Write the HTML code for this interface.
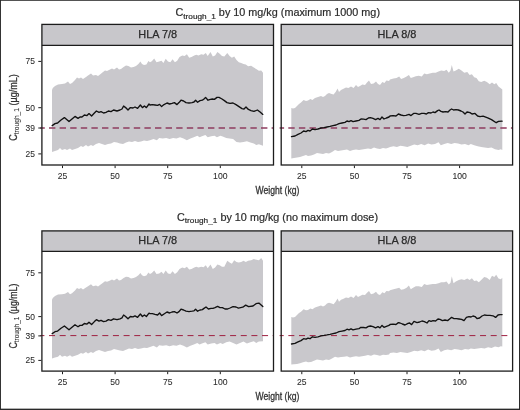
<!DOCTYPE html>
<html lang="en"><head><meta charset="utf-8"><title>Ctrough_1 by dose</title>
<style>
html,body{margin:0;padding:0;background:#fff;}
body{width:520px;height:410px;overflow:hidden;font-family:"Liberation Sans",Arial,sans-serif;}
svg{display:block;}
</style></head><body>
<svg width="520" height="410" viewBox="0 0 520 410" font-family="'Liberation Sans', Arial, sans-serif">
<rect x="0" y="0" width="520" height="410" fill="#ffffff"/>
<polygon points="52.0,90.0 52.8,88.0 55.0,86.0 58.0,84.4 62.0,84.0 65.0,83.6 68.0,81.6 70.0,84.0 72.0,83.0 75.0,80.0 77.0,77.6 79.0,78.4 81.0,77.6 83.0,79.0 86.0,77.0 88.0,75.6 91.0,73.6 93.0,75.6 96.0,75.0 98.0,76.0 100.0,74.4 102.4,72.4 105.0,70.4 107.0,71.0 109.0,70.0 112.0,68.4 114.0,69.6 117.0,67.6 119.0,69.6 121.0,69.0 123.6,67.0 126.0,65.6 128.4,66.0 131.0,67.6 133.6,67.0 136.0,66.0 138.4,64.0 140.4,61.6 142.0,64.0 144.0,65.0 146.4,64.4 148.4,61.0 150.0,62.3 151.8,61.2 154.2,58.4 156.5,62.3 159.2,61.6 161.5,60.7 163.4,63.0 165.7,58.8 168.0,61.6 170.3,62.3 172.6,59.3 174.9,62.3 177.2,60.7 179.5,57.0 182.3,55.4 184.6,56.1 186.9,54.2 189.2,57.7 191.5,57.0 194.3,55.4 196.2,54.7 198.5,55.4 201.2,54.2 203.5,54.7 205.8,53.1 207.7,56.1 210.5,51.9 212.8,56.5 215.1,55.4 217.4,51.9 219.7,53.8 222.0,56.1 224.3,56.5 227.3,53.1 229.6,56.1 231.9,57.7 234.2,56.5 236.5,60.0 238.8,62.3 241.2,63.0 243.5,63.9 245.8,64.6 248.1,66.2 251.1,65.8 253.8,67.6 256.6,69.2 258.9,70.8 261.2,70.4 263.0,72.7 263.0,145.8 258.9,144.2 256.2,144.9 253.8,143.5 250.4,142.6 246.9,141.2 243.5,141.9 240.0,142.6 236.5,141.9 233.1,138.9 229.6,138.5 226.2,138.0 222.7,136.6 220.4,135.7 216.9,137.3 214.6,135.7 211.2,136.2 207.7,137.3 205.4,135.0 201.9,136.2 199.6,137.3 197.3,135.7 193.8,137.3 190.4,138.5 186.9,140.3 183.5,138.5 180.0,137.3 176.5,138.5 173.1,138.0 169.6,138.9 166.2,138.0 162.7,138.5 159.2,138.0 156.9,140.3 153.5,138.9 150.0,140.3 147.0,141.0 144.0,140.6 141.0,141.4 138.0,142.0 135.0,141.0 132.0,142.0 129.0,141.4 126.0,142.6 123.0,144.0 120.0,143.4 117.0,142.6 114.0,142.0 111.0,143.4 108.0,144.0 105.0,145.0 102.0,144.0 99.0,143.0 96.0,144.0 93.0,146.0 91.0,145.0 88.0,146.6 86.0,145.0 83.0,147.0 81.0,146.0 78.0,148.0 75.0,149.0 72.0,150.0 70.0,148.6 67.0,150.0 65.0,149.0 62.0,150.0 60.0,148.0 58.0,150.0 55.0,151.0 52.0,152.0" fill="#c9c8cc"/>
<line x1="40.3" y1="128.0" x2="273.5" y2="128.0" stroke="#8f3d5f" stroke-width="1.5" stroke-dasharray="6.4 4.2" stroke-dashoffset="1.9"/>
<polyline points="52.2,125.6 55.0,123.6 57.6,123.0 61.0,120.0 64.4,117.6 69.0,121.6 72.0,119.0 75.0,116.4 78.0,118.4 80.0,117.0 82.0,117.0 84.4,115.0 87.0,115.6 89.0,113.6 91.6,116.0 94.4,113.0 96.4,111.0 99.0,112.4 101.0,111.6 103.6,113.0 106.0,112.4 108.4,111.0 111.0,111.6 113.6,110.0 117.0,111.0 120.0,110.0 122.0,109.0 123.6,106.0 125.6,107.6 128.0,110.0 130.4,107.6 133.0,108.0 135.0,107.0 137.6,108.4 140.4,105.0 142.4,107.6 144.4,106.0 146.4,107.6 149.0,104.0 150.0,105.0 152.4,104.6 155.0,105.0 157.6,105.4 159.6,104.4 161.6,106.6 164.0,104.6 167.0,103.0 169.6,104.0 172.0,103.4 174.4,102.6 177.0,104.6 179.0,102.6 181.0,100.2 183.6,101.0 186.0,102.6 189.0,103.0 192.0,102.6 194.0,102.0 195.6,100.2 197.6,102.2 200.0,100.6 202.4,100.2 204.0,99.0 205.6,97.4 208.0,100.2 210.4,99.4 212.4,99.0 214.4,99.4 217.0,97.4 219.0,97.4 222.0,99.0 224.4,100.6 227.0,102.6 230.0,103.4 233.0,103.0 236.0,104.6 239.0,106.6 242.0,108.6 244.0,109.0 246.0,107.0 248.4,109.4 251.0,110.6 254.0,111.4 257.4,110.0 260.4,112.3 262.8,114.4" fill="none" stroke="#111" stroke-width="1.35" stroke-linejoin="round" stroke-linecap="round"/>
<rect x="41.9" y="24.4" width="231.6" height="20.8" fill="#c8c7cb"/>
<rect x="41.9" y="24.4" width="231.6" height="140.6" fill="none" stroke="#1c1c1c" stroke-width="1.3"/>
<line x1="41.9" y1="45.4" x2="273.5" y2="45.4" stroke="#1c1c1c" stroke-width="1.2"/>
<text x="157.7" y="38.3" font-size="10.5" text-anchor="middle" fill="#2b2b2b" stroke="#2b2b2b" stroke-width="0.25" textLength="38.8" lengthAdjust="spacingAndGlyphs">HLA 7/8</text>
<line x1="62.5" y1="165.6" x2="62.5" y2="168.1" stroke="#1c1c1c" stroke-width="1"/>
<text x="62.5" y="179.3" font-size="9.4" text-anchor="middle" fill="#2b2b2b" stroke="#2b2b2b" stroke-width="0.08" textLength="9.5" lengthAdjust="spacingAndGlyphs">25</text>
<line x1="115.1" y1="165.6" x2="115.1" y2="168.1" stroke="#1c1c1c" stroke-width="1"/>
<text x="115.1" y="179.3" font-size="9.4" text-anchor="middle" fill="#2b2b2b" stroke="#2b2b2b" stroke-width="0.08" textLength="9.5" lengthAdjust="spacingAndGlyphs">50</text>
<line x1="167.7" y1="165.6" x2="167.7" y2="168.1" stroke="#1c1c1c" stroke-width="1"/>
<text x="167.7" y="179.3" font-size="9.4" text-anchor="middle" fill="#2b2b2b" stroke="#2b2b2b" stroke-width="0.08" textLength="9.5" lengthAdjust="spacingAndGlyphs">75</text>
<line x1="220.3" y1="165.6" x2="220.3" y2="168.1" stroke="#1c1c1c" stroke-width="1"/>
<text x="220.3" y="179.3" font-size="9.4" text-anchor="middle" fill="#2b2b2b" stroke="#2b2b2b" stroke-width="0.08" textLength="14.4" lengthAdjust="spacingAndGlyphs">100</text>
<line x1="38.3" y1="153.9" x2="41.3" y2="153.9" stroke="#1c1c1c" stroke-width="1"/>
<text x="34.9" y="156.9" font-size="9.9" text-anchor="end" fill="#2b2b2b" stroke="#2b2b2b" stroke-width="0.08" textLength="9.4" lengthAdjust="spacingAndGlyphs">25</text>
<line x1="38.3" y1="128.0" x2="41.3" y2="128.0" stroke="#1c1c1c" stroke-width="1"/>
<text x="34.9" y="131.0" font-size="9.9" text-anchor="end" fill="#2b2b2b" stroke="#2b2b2b" stroke-width="0.08" textLength="9.4" lengthAdjust="spacingAndGlyphs">39</text>
<line x1="38.3" y1="107.7" x2="41.3" y2="107.7" stroke="#1c1c1c" stroke-width="1"/>
<text x="34.9" y="110.7" font-size="9.9" text-anchor="end" fill="#2b2b2b" stroke="#2b2b2b" stroke-width="0.08" textLength="9.4" lengthAdjust="spacingAndGlyphs">50</text>
<line x1="38.3" y1="61.4" x2="41.3" y2="61.4" stroke="#1c1c1c" stroke-width="1"/>
<text x="34.9" y="64.4" font-size="9.9" text-anchor="end" fill="#2b2b2b" stroke="#2b2b2b" stroke-width="0.08" textLength="9.4" lengthAdjust="spacingAndGlyphs">75</text>
<polygon points="291.3,108.0 293.0,108.6 295.0,108.0 297.0,106.0 299.0,104.0 301.0,102.6 303.6,100.0 306.0,101.0 308.0,100.6 310.4,99.0 312.4,100.0 315.0,98.0 318.0,97.0 321.0,96.0 323.0,97.0 325.0,96.0 327.0,94.0 329.0,93.0 331.6,94.0 333.6,94.6 335.6,92.0 337.6,88.6 339.0,92.0 341.0,90.0 343.0,89.0 346.0,87.4 348.4,88.0 351.0,86.6 353.6,88.0 356.0,85.0 358.0,87.0 360.0,86.0 362.4,84.6 365.0,85.0 367.0,82.6 369.0,80.6 371.0,84.0 373.6,83.4 376.0,81.4 378.0,84.0 380.0,85.0 382.4,82.0 384.4,83.0 386.4,80.6 389.0,81.0 390.0,79.6 393.5,78.5 396.5,78.0 399.2,76.6 401.1,78.9 403.8,78.0 406.6,76.6 408.9,75.0 410.8,78.0 413.1,77.3 415.8,76.2 418.8,75.7 421.8,76.6 424.2,73.4 426.9,74.3 429.7,73.4 432.7,72.7 435.7,72.7 438.5,71.5 441.2,70.4 444.2,71.1 446.5,69.7 448.8,72.7 450.5,70.4 451.8,65.1 453.5,71.5 455.8,70.4 458.8,68.8 461.5,70.4 464.3,72.7 467.3,72.0 469.6,75.0 471.9,74.3 474.2,77.3 476.5,78.0 478.8,81.2 481.2,81.9 484.2,80.8 486.9,81.9 489.7,84.2 492.0,82.6 494.3,84.2 496.2,83.1 498.5,86.5 500.8,88.2 502.3,89.5 502.3,149.9 500.8,149.2 498.5,149.9 495.0,149.2 491.5,147.6 488.1,148.1 484.6,147.6 481.2,146.9 477.7,146.2 474.2,145.3 470.8,143.9 468.5,145.3 465.0,143.9 461.5,144.6 458.1,143.5 454.6,143.0 451.2,143.9 447.7,143.0 444.2,143.9 440.8,145.3 438.5,142.3 435.0,143.9 431.5,144.6 428.1,143.5 424.6,145.3 421.2,143.9 417.7,145.3 414.2,144.6 410.8,145.8 407.3,146.9 403.8,146.2 400.4,145.8 396.9,146.9 393.5,146.2 390.0,146.9 389.0,147.6 386.0,148.4 383.0,148.0 380.0,149.0 377.0,148.4 374.0,147.6 371.0,149.0 368.0,148.4 365.0,149.0 362.0,149.6 359.0,150.0 356.0,149.6 353.0,150.0 350.0,151.0 347.0,149.6 344.0,150.0 341.0,150.4 338.0,151.0 335.0,150.0 332.0,152.0 329.0,153.6 326.0,153.0 323.0,154.0 320.0,153.6 317.0,153.0 314.0,154.4 311.0,155.6 308.0,156.0 306.0,155.0 303.0,156.0 300.0,157.0 297.0,157.6 294.0,158.0 291.3,158.4" fill="#c9c8cc"/>
<line x1="279.6" y1="128.0" x2="512.6" y2="128.0" stroke="#8f3d5f" stroke-width="1.5" stroke-dasharray="6.4 4.2" stroke-dashoffset="1.9"/>
<polyline points="291.5,136.6 295.0,136.0 298.0,134.4 301.0,133.0 303.6,131.0 306.0,131.6 308.0,130.4 310.0,131.0 312.4,129.0 315.0,129.6 318.0,129.0 321.0,128.0 324.0,127.6 327.0,127.0 330.0,126.4 333.0,125.6 336.0,125.0 339.0,123.6 342.0,123.0 345.0,122.4 347.0,121.0 349.0,121.6 351.0,120.6 353.0,121.6 356.0,121.0 359.0,120.4 361.0,119.0 363.6,119.2 366.0,119.6 368.4,118.0 370.4,117.6 373.0,118.4 375.6,119.6 378.0,118.4 380.0,119.6 382.0,117.0 384.0,119.0 386.4,118.0 389.0,117.0 390.0,116.0 393.0,115.6 396.0,116.0 398.4,114.0 401.0,115.0 403.6,115.6 406.0,115.4 409.0,114.4 411.0,115.6 413.6,113.4 416.0,113.4 419.0,114.4 421.6,113.4 424.0,113.4 426.4,114.0 428.4,112.6 431.0,113.0 433.0,112.0 435.0,112.6 437.6,110.6 439.0,110.0 441.0,111.4 443.0,112.0 445.6,111.6 448.0,112.0 450.0,110.0 451.6,109.0 453.6,110.0 456.0,109.6 458.4,110.0 461.0,111.0 463.0,112.0 465.0,114.0 467.0,112.0 470.0,112.6 472.0,114.0 475.0,113.4 477.6,116.0 480.0,116.6 483.1,116.2 487.7,117.8 491.5,119.6 496.2,122.7 498.5,121.4 502.1,121.2" fill="none" stroke="#111" stroke-width="1.35" stroke-linejoin="round" stroke-linecap="round"/>
<rect x="281.2" y="24.4" width="231.4" height="20.8" fill="#c8c7cb"/>
<rect x="281.2" y="24.4" width="231.4" height="140.6" fill="none" stroke="#1c1c1c" stroke-width="1.3"/>
<line x1="281.2" y1="45.4" x2="512.6" y2="45.4" stroke="#1c1c1c" stroke-width="1.2"/>
<text x="396.9" y="38.3" font-size="10.5" text-anchor="middle" fill="#2b2b2b" stroke="#2b2b2b" stroke-width="0.25" textLength="38.8" lengthAdjust="spacingAndGlyphs">HLA 8/8</text>
<line x1="301.8" y1="165.6" x2="301.8" y2="168.1" stroke="#1c1c1c" stroke-width="1"/>
<text x="301.8" y="179.3" font-size="9.4" text-anchor="middle" fill="#2b2b2b" stroke="#2b2b2b" stroke-width="0.08" textLength="9.5" lengthAdjust="spacingAndGlyphs">25</text>
<line x1="354.4" y1="165.6" x2="354.4" y2="168.1" stroke="#1c1c1c" stroke-width="1"/>
<text x="354.4" y="179.3" font-size="9.4" text-anchor="middle" fill="#2b2b2b" stroke="#2b2b2b" stroke-width="0.08" textLength="9.5" lengthAdjust="spacingAndGlyphs">50</text>
<line x1="407.0" y1="165.6" x2="407.0" y2="168.1" stroke="#1c1c1c" stroke-width="1"/>
<text x="407.0" y="179.3" font-size="9.4" text-anchor="middle" fill="#2b2b2b" stroke="#2b2b2b" stroke-width="0.08" textLength="9.5" lengthAdjust="spacingAndGlyphs">75</text>
<line x1="459.6" y1="165.6" x2="459.6" y2="168.1" stroke="#1c1c1c" stroke-width="1"/>
<text x="459.6" y="179.3" font-size="9.4" text-anchor="middle" fill="#2b2b2b" stroke="#2b2b2b" stroke-width="0.08" textLength="14.4" lengthAdjust="spacingAndGlyphs">100</text>
<polygon points="52.0,299.8 52.8,297.9 55.0,296.0 58.0,294.5 62.0,294.2 65.0,293.8 68.0,291.9 70.0,294.2 72.0,293.2 75.0,290.4 77.0,288.1 79.0,288.9 81.0,288.1 83.0,289.4 86.0,287.5 88.0,286.2 91.0,284.3 93.0,286.2 96.0,285.6 98.0,286.6 100.0,285.1 102.4,283.2 105.0,281.3 107.0,281.8 109.0,280.9 112.0,279.4 114.0,280.5 117.0,278.6 119.0,280.5 121.0,280.0 123.6,278.1 126.0,276.7 128.4,277.1 131.0,278.6 133.6,278.1 136.0,277.1 138.4,275.2 140.4,272.9 142.0,275.2 144.0,276.2 146.4,275.6 148.4,272.4 150.0,274.1 151.8,272.9 154.2,270.6 156.5,274.1 159.2,273.6 161.5,271.8 163.4,274.1 165.7,270.6 168.0,273.6 170.3,274.1 172.6,271.3 174.9,274.1 177.2,272.2 179.5,269.0 182.3,267.6 184.6,268.3 186.9,266.7 189.2,269.5 191.5,269.0 194.3,267.6 196.2,266.7 198.5,267.6 201.2,266.7 203.5,267.2 205.8,265.3 207.7,268.3 210.5,264.4 212.8,269.0 215.1,267.6 217.4,264.4 219.7,265.3 222.0,266.7 224.3,266.7 227.3,260.7 229.6,262.5 231.9,263.7 234.2,260.2 236.5,262.1 238.8,262.5 241.2,262.1 243.5,260.7 245.8,262.1 248.1,260.7 251.1,260.2 253.8,259.1 256.6,259.8 258.9,260.2 261.2,257.9 263.0,260.7 263.0,341.2 258.9,341.6 256.2,343.0 253.8,341.2 250.4,342.3 246.9,343.5 243.5,341.6 240.0,343.0 236.5,344.6 233.1,343.0 229.6,341.6 226.2,342.3 222.7,343.9 220.4,343.0 216.9,344.6 214.6,343.0 211.2,343.5 207.7,344.6 205.4,342.3 201.9,343.5 199.6,344.6 197.3,343.0 193.8,344.6 190.4,345.8 186.9,347.6 183.5,345.8 180.0,344.6 176.5,345.8 173.1,345.3 169.6,346.2 166.2,345.3 162.7,345.8 159.2,345.3 156.9,347.6 153.5,345.8 150.0,346.9 147.0,348.1 144.0,347.8 141.0,348.5 138.0,349.1 135.0,348.1 132.0,349.1 129.0,348.5 126.0,349.7 123.0,351.0 120.0,350.4 117.0,349.7 114.0,349.1 111.0,350.4 108.0,351.0 105.0,351.9 102.0,351.0 99.0,350.0 96.0,351.0 93.0,352.9 91.0,351.9 88.0,353.4 86.0,351.9 83.0,353.8 81.0,352.9 78.0,354.8 75.0,355.7 72.0,356.7 70.0,355.3 67.0,356.7 65.0,355.7 62.0,356.7 60.0,354.8 58.0,356.7 55.0,357.6 52.0,358.6" fill="#c9c8cc"/>
<line x1="40.3" y1="335.6" x2="273.5" y2="335.6" stroke="#9e1f40" stroke-width="1.0" stroke-dasharray="6 4.65" stroke-dashoffset="1.9"/>
<polyline points="52.2,333.6 55.0,331.7 57.6,331.1 61.0,328.2 64.4,326.0 69.0,329.8 72.0,327.3 75.0,324.8 78.0,326.7 80.0,325.4 82.0,325.4 84.4,323.5 87.0,324.1 89.0,322.2 91.6,324.5 94.4,321.6 96.4,319.7 99.0,321.1 101.0,320.3 103.6,321.6 106.0,321.1 108.4,319.7 111.0,320.3 113.6,318.8 117.0,319.7 120.0,318.8 122.0,317.8 123.6,315.0 125.6,316.5 128.0,318.8 130.4,316.5 133.0,316.9 135.0,315.9 137.6,317.3 140.4,314.0 142.4,316.5 144.4,315.0 146.4,316.5 149.0,313.1 150.0,313.6 152.4,313.6 155.0,314.4 157.6,315.0 159.6,313.0 161.6,315.6 164.0,314.0 167.0,312.0 169.6,313.0 172.0,312.0 174.4,311.6 177.0,313.0 179.0,311.6 181.0,309.2 183.6,310.0 186.0,311.2 189.0,311.6 192.0,311.2 194.0,310.8 195.6,309.2 197.6,311.2 200.0,310.0 202.4,309.6 204.0,308.4 206.0,307.0 208.4,309.0 211.0,308.4 213.0,308.4 215.0,307.6 217.6,306.4 220.0,307.6 222.4,307.6 225.0,309.0 227.6,309.0 230.0,308.0 233.0,306.6 236.0,307.0 238.4,308.1 242.8,307.2 245.7,305.1 248.6,306.6 253.0,306.0 256.0,303.7 258.9,303.1 262.8,306.6" fill="none" stroke="#111" stroke-width="1.35" stroke-linejoin="round" stroke-linecap="round"/>
<rect x="41.9" y="230.9" width="231.6" height="20.3" fill="#c8c7cb"/>
<rect x="41.9" y="230.9" width="231.6" height="140.2" fill="none" stroke="#1c1c1c" stroke-width="1.3"/>
<line x1="41.9" y1="251.3" x2="273.5" y2="251.3" stroke="#1c1c1c" stroke-width="1.2"/>
<text x="157.7" y="244.3" font-size="10.5" text-anchor="middle" fill="#2b2b2b" stroke="#2b2b2b" stroke-width="0.25" textLength="38.8" lengthAdjust="spacingAndGlyphs">HLA 7/8</text>
<line x1="62.5" y1="371.7" x2="62.5" y2="374.2" stroke="#1c1c1c" stroke-width="1"/>
<text x="62.5" y="385.4" font-size="9.4" text-anchor="middle" fill="#2b2b2b" stroke="#2b2b2b" stroke-width="0.08" textLength="9.5" lengthAdjust="spacingAndGlyphs">25</text>
<line x1="115.1" y1="371.7" x2="115.1" y2="374.2" stroke="#1c1c1c" stroke-width="1"/>
<text x="115.1" y="385.4" font-size="9.4" text-anchor="middle" fill="#2b2b2b" stroke="#2b2b2b" stroke-width="0.08" textLength="9.5" lengthAdjust="spacingAndGlyphs">50</text>
<line x1="167.7" y1="371.7" x2="167.7" y2="374.2" stroke="#1c1c1c" stroke-width="1"/>
<text x="167.7" y="385.4" font-size="9.4" text-anchor="middle" fill="#2b2b2b" stroke="#2b2b2b" stroke-width="0.08" textLength="9.5" lengthAdjust="spacingAndGlyphs">75</text>
<line x1="220.3" y1="371.7" x2="220.3" y2="374.2" stroke="#1c1c1c" stroke-width="1"/>
<text x="220.3" y="385.4" font-size="9.4" text-anchor="middle" fill="#2b2b2b" stroke="#2b2b2b" stroke-width="0.08" textLength="14.4" lengthAdjust="spacingAndGlyphs">100</text>
<line x1="38.3" y1="360.4" x2="41.3" y2="360.4" stroke="#1c1c1c" stroke-width="1"/>
<text x="34.9" y="363.4" font-size="9.9" text-anchor="end" fill="#2b2b2b" stroke="#2b2b2b" stroke-width="0.08" textLength="9.4" lengthAdjust="spacingAndGlyphs">25</text>
<line x1="38.3" y1="335.9" x2="41.3" y2="335.9" stroke="#1c1c1c" stroke-width="1"/>
<text x="34.9" y="338.9" font-size="9.9" text-anchor="end" fill="#2b2b2b" stroke="#2b2b2b" stroke-width="0.08" textLength="9.4" lengthAdjust="spacingAndGlyphs">39</text>
<line x1="38.3" y1="316.6" x2="41.3" y2="316.6" stroke="#1c1c1c" stroke-width="1"/>
<text x="34.9" y="319.6" font-size="9.9" text-anchor="end" fill="#2b2b2b" stroke="#2b2b2b" stroke-width="0.08" textLength="9.4" lengthAdjust="spacingAndGlyphs">50</text>
<line x1="38.3" y1="272.8" x2="41.3" y2="272.8" stroke="#1c1c1c" stroke-width="1"/>
<text x="34.9" y="275.8" font-size="9.9" text-anchor="end" fill="#2b2b2b" stroke="#2b2b2b" stroke-width="0.08" textLength="9.4" lengthAdjust="spacingAndGlyphs">75</text>
<polygon points="291.3,316.9 293.0,317.5 295.0,316.9 297.0,315.0 299.0,313.1 301.0,311.8 303.6,309.3 306.0,310.3 308.0,309.9 310.4,308.4 312.4,309.3 315.0,307.4 318.0,306.5 321.0,305.5 323.0,306.5 325.0,305.5 327.0,303.6 329.0,302.7 331.6,303.6 333.6,304.2 335.6,301.7 337.6,298.5 339.0,301.7 341.0,299.8 343.0,298.9 346.0,297.4 348.4,297.9 351.0,296.6 353.6,297.9 356.0,295.1 358.0,297.0 360.0,296.0 362.4,294.7 365.0,295.1 367.0,292.8 369.0,290.9 371.0,294.2 373.6,293.6 376.0,291.7 378.0,294.2 380.0,295.1 382.4,292.3 384.4,293.2 386.4,290.9 389.0,291.3 390.0,290.2 393.5,289.2 396.5,288.5 399.2,287.8 401.1,289.7 403.8,289.2 406.6,287.8 408.9,285.5 410.8,289.2 413.1,287.8 415.8,286.2 418.8,286.2 421.8,286.9 424.2,283.9 426.9,285.1 429.7,284.6 432.7,283.9 435.7,283.9 438.5,283.2 441.2,282.3 444.2,282.3 446.5,281.6 448.8,284.6 450.5,282.8 451.8,276.3 453.5,283.2 455.8,281.6 458.8,280.0 461.5,279.3 464.3,280.0 467.3,278.6 469.6,280.0 471.9,278.2 474.2,280.9 476.5,280.5 478.8,282.3 481.2,280.0 484.2,277.0 486.9,277.7 489.7,280.0 492.0,275.8 494.3,277.0 496.2,274.7 498.5,278.6 500.8,279.3 502.3,277.7 502.3,346.6 500.8,346.2 498.5,347.3 495.0,346.6 491.5,348.0 488.1,347.3 484.6,348.5 481.2,348.0 477.7,348.5 474.2,348.9 470.8,348.5 468.5,349.6 465.0,348.9 461.5,350.3 458.1,349.6 454.6,348.9 451.2,350.3 447.7,349.6 444.2,350.3 440.8,351.9 438.5,348.5 435.0,350.3 431.5,350.8 428.1,349.6 424.6,351.2 421.2,350.3 417.7,351.2 414.2,350.8 410.8,351.9 407.3,353.1 403.8,352.6 400.4,351.9 396.9,353.1 393.5,352.6 390.0,353.1 389.0,354.4 386.0,355.1 383.0,354.8 380.0,355.7 377.0,355.1 374.0,354.4 371.0,355.7 368.0,355.1 365.0,355.7 362.0,356.3 359.0,356.7 356.0,356.3 353.0,356.7 350.0,357.6 347.0,356.3 344.0,356.7 341.0,357.0 338.0,357.6 335.0,356.7 332.0,358.6 329.0,360.1 326.0,359.5 323.0,360.4 320.0,360.1 317.0,359.5 314.0,360.8 311.0,362.0 308.0,362.3 306.0,361.4 303.0,362.3 300.0,363.3 297.0,363.9 294.0,364.2 291.3,364.6" fill="#c9c8cc"/>
<line x1="279.6" y1="335.6" x2="512.6" y2="335.6" stroke="#9e1f40" stroke-width="1.0" stroke-dasharray="6 4.65" stroke-dashoffset="1.9"/>
<polyline points="291.5,344.0 295.0,343.4 298.0,341.9 301.0,340.6 303.6,338.7 306.0,339.2 308.0,338.1 310.0,338.7 312.4,336.8 315.0,337.3 318.0,336.8 321.0,335.8 324.0,335.4 327.0,334.9 330.0,334.3 333.0,333.6 336.0,333.0 339.0,331.7 342.0,331.1 345.0,330.5 347.0,329.2 349.0,329.8 351.0,328.8 353.0,329.8 356.0,329.2 359.0,328.6 361.0,327.3 363.6,327.5 366.0,327.9 368.4,326.4 370.4,326.0 373.0,326.7 375.6,327.9 378.0,326.7 380.0,327.9 382.0,325.4 384.0,327.3 386.4,326.4 389.0,325.4 390.0,324.5 393.0,324.1 396.0,324.5 398.4,322.6 400.0,323.0 402.4,324.0 405.0,325.0 408.0,323.4 409.6,323.0 411.6,324.6 414.0,321.4 417.0,322.6 419.6,322.0 422.0,321.0 424.4,321.6 427.0,323.0 429.0,320.6 431.0,321.4 433.0,320.6 435.6,321.0 438.0,319.0 440.0,319.4 442.4,320.6 445.0,320.0 447.6,320.6 449.6,319.0 451.6,317.4 454.0,318.6 456.4,318.6 459.0,319.0 461.6,319.4 464.0,320.6 466.4,317.4 469.0,316.6 471.0,317.0 473.0,316.0 475.0,316.6 477.0,318.6 479.6,318.0 482.0,316.0 484.4,315.0 487.0,315.4 490.0,315.4 493.0,315.8 495.6,317.4 498.0,315.0 500.0,314.6 502.1,314.6" fill="none" stroke="#111" stroke-width="1.35" stroke-linejoin="round" stroke-linecap="round"/>
<rect x="281.2" y="230.9" width="231.4" height="20.3" fill="#c8c7cb"/>
<rect x="281.2" y="230.9" width="231.4" height="140.2" fill="none" stroke="#1c1c1c" stroke-width="1.3"/>
<line x1="281.2" y1="251.3" x2="512.6" y2="251.3" stroke="#1c1c1c" stroke-width="1.2"/>
<text x="396.9" y="244.3" font-size="10.5" text-anchor="middle" fill="#2b2b2b" stroke="#2b2b2b" stroke-width="0.25" textLength="38.8" lengthAdjust="spacingAndGlyphs">HLA 8/8</text>
<line x1="301.8" y1="371.7" x2="301.8" y2="374.2" stroke="#1c1c1c" stroke-width="1"/>
<text x="301.8" y="385.4" font-size="9.4" text-anchor="middle" fill="#2b2b2b" stroke="#2b2b2b" stroke-width="0.08" textLength="9.5" lengthAdjust="spacingAndGlyphs">25</text>
<line x1="354.4" y1="371.7" x2="354.4" y2="374.2" stroke="#1c1c1c" stroke-width="1"/>
<text x="354.4" y="385.4" font-size="9.4" text-anchor="middle" fill="#2b2b2b" stroke="#2b2b2b" stroke-width="0.08" textLength="9.5" lengthAdjust="spacingAndGlyphs">50</text>
<line x1="407.0" y1="371.7" x2="407.0" y2="374.2" stroke="#1c1c1c" stroke-width="1"/>
<text x="407.0" y="385.4" font-size="9.4" text-anchor="middle" fill="#2b2b2b" stroke="#2b2b2b" stroke-width="0.08" textLength="9.5" lengthAdjust="spacingAndGlyphs">75</text>
<line x1="459.6" y1="371.7" x2="459.6" y2="374.2" stroke="#1c1c1c" stroke-width="1"/>
<text x="459.6" y="385.4" font-size="9.4" text-anchor="middle" fill="#2b2b2b" stroke="#2b2b2b" stroke-width="0.08" textLength="14.4" lengthAdjust="spacingAndGlyphs">100</text>
<text x="175.5" y="16.3" font-size="10.5" fill="#2b2b2b" stroke="#2b2b2b" stroke-width="0.2" textLength="204.5" lengthAdjust="spacingAndGlyphs">C<tspan font-size="8" dy="2.4">trough_1</tspan><tspan dy="-2.4"> by 10 mg/kg (maximum 1000 mg)</tspan></text>
<text x="177" y="220.9" font-size="10.5" fill="#2b2b2b" stroke="#2b2b2b" stroke-width="0.2" textLength="201" lengthAdjust="spacingAndGlyphs">C<tspan font-size="8" dy="2.4">trough_1</tspan><tspan dy="-2.4"> by 10 mg/kg (no maximum dose)</tspan></text>
<text x="277.5" y="193.8" font-size="10" text-anchor="middle" fill="#333" stroke="#333" stroke-width="0.3" textLength="43.8" lengthAdjust="spacingAndGlyphs">Weight (kg)</text>
<text x="277.5" y="400.0" font-size="10" text-anchor="middle" fill="#333" stroke="#333" stroke-width="0.3" textLength="43.8" lengthAdjust="spacingAndGlyphs">Weight (kg)</text>
<text transform="translate(16.5,140.8) rotate(-90)" font-size="10.5" fill="#333" stroke="#333" stroke-width="0.3" textLength="66.5" lengthAdjust="spacingAndGlyphs">C<tspan font-size="7.8" dy="2.6" stroke-width="0.1">trough_1</tspan><tspan dy="-2.6"> (µg/mL)</tspan></text>
<text transform="translate(16.5,348.6) rotate(-90)" font-size="10.5" fill="#333" stroke="#333" stroke-width="0.3" textLength="65" lengthAdjust="spacingAndGlyphs">C<tspan font-size="7.8" dy="2.6" stroke-width="0.1">trough_1</tspan><tspan dy="-2.6"> (µg/mL)</tspan></text>
<rect x="0" y="0" width="0.95" height="410" fill="#2a2a2a"/>
<rect x="0" y="0" width="520" height="0.8" fill="#2a2a2a"/>
<rect x="519" y="0" width="1" height="410" fill="#2a2a2a"/>
<rect x="0" y="408.65" width="520" height="1.35" fill="#2a2a2a"/>
</svg>
</body></html>
